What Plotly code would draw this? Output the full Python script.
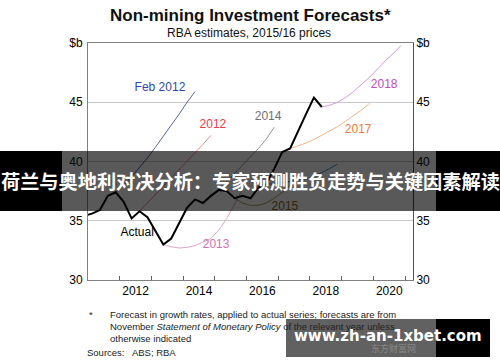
import plotly.graph_objects as go

# ---------------- data ----------------
actual_x = [2010.875, 2011.125, 2011.375, 2011.625, 2011.875, 2012.125, 2012.375, 2012.625,
            2012.875, 2013.125, 2013.375, 2013.625, 2013.875, 2014.125, 2014.375, 2014.625,
            2014.875, 2015.125, 2015.375, 2015.625, 2015.875, 2016.125, 2016.375, 2016.625,
            2016.875, 2017.125, 2017.375, 2017.625, 2017.875, 2018.125, 2018.375]
actual_y = [35.4, 35.6, 35.9, 37.1, 37.4, 36.6, 35.2, 35.8,
            35.3, 34.2, 33.0, 33.5, 34.8, 36.1, 36.8, 36.5,
            37.1, 37.6, 37.5, 36.9, 37.1, 36.9, 37.8, 38.1,
            39.4, 40.8, 41.1, 42.6, 44.0, 45.4, 44.6]

feb2012_x = [2011.875, 2012.125, 2012.375, 2012.625, 2012.875, 2013.125, 2013.375,
             2013.625, 2013.875, 2014.125, 2014.375]
feb2012_y = [37.4, 38.0, 38.7, 39.5, 40.3, 41.2, 42.1, 43.0, 44.0, 45.0, 45.9]

f2012_x = [2012.625, 2012.875, 2013.125, 2013.375, 2013.625, 2013.875, 2014.125,
           2014.375, 2014.625, 2014.875]
f2012_y = [35.8, 36.5, 37.2, 37.9, 38.6, 39.3, 40.0, 40.7, 41.45, 42.2]

f2013_x = [2013.375, 2013.625, 2013.875, 2014.125, 2014.375, 2014.625, 2014.875,
           2015.125, 2015.375, 2015.625, 2015.875, 2016.125]
f2013_y = [33.0, 32.8, 32.7, 32.75, 32.9, 33.2, 33.5, 34.2, 35.2, 36.4, 37.6, 38.9]

f2014_x = [2014.625, 2014.875, 2015.125, 2015.375, 2015.625, 2015.875, 2016.125,
           2016.375, 2016.625, 2016.875]
f2014_y = [36.5, 37.0, 37.6, 38.3, 39.0, 39.7, 40.4, 41.1, 41.9, 42.9]

f2015_x = [2015.375, 2015.625, 2015.875, 2016.125, 2016.375, 2016.625, 2016.875,
           2017.125, 2017.375, 2017.625]
f2015_y = [37.5, 36.9, 36.5, 36.3, 36.3, 36.5, 36.9, 37.4, 38.0, 38.6]

f2016_x = [2016.625, 2016.875, 2017.125, 2017.375, 2017.625, 2017.875, 2018.125,
           2018.375, 2018.625, 2018.875]
f2016_y = [38.1, 38.1, 38.2, 38.3, 38.4, 38.55, 38.75, 39.05, 39.4, 39.8]

f2017_x = [2017.375, 2017.625, 2017.875, 2018.125, 2018.375, 2018.625, 2018.875,
           2019.125, 2019.375, 2019.625, 2019.875]
f2017_y = [41.1, 41.3, 41.55, 41.85, 42.2, 42.55, 42.95, 43.4, 43.85, 44.35, 44.9]

f2018_x = [2018.375, 2018.625, 2018.875, 2019.125, 2019.375, 2019.625, 2019.875,
           2020.125, 2020.375, 2020.625, 2020.875]
f2018_y = [44.6, 44.75, 45.0, 45.4, 45.9, 46.5, 47.1, 47.8, 48.5, 49.1, 49.8]

year_ticks = [2012, 2013, 2014, 2015, 2016, 2017, 2018, 2019, 2020, 2021]
year_label_pos = [2012.5, 2014.5, 2016.5, 2018.5, 2020.5]
year_labels = ["2012", "2014", "2016", "2018", "2020"]
y_ticks = [30, 35, 40, 45, 50]
y_labels = ["30", "35", "40", "45", "$b"]

series_labels = ["Feb 2012", "2012", "2013", "2014", "2015", "2017", "2018", "Actual"]
label_x = [2013.27, 2014.94, 2015.04, 2016.68, 2017.21, 2019.52, 2020.34, 2012.55]
label_y = [46.2, 43.1, 32.95, 43.75, 36.16, 42.66, 46.45, 33.97]
label_colors = ["#3447a8", "#e8404c", "#d670b0", "#6f6f6f", "#8a6a1e", "#f07a3a", "#c04cc0", "#000000"]

# ---------------- figure ----------------
FONT = "Liberation Sans, Arial, sans-serif"
fig = go.Figure()

forecasts = [
    (feb2012_x, feb2012_y, "#5565b5"),
    (f2012_x, f2012_y, "#ee8a8e"),
    (f2013_x, f2013_y, "#e2a4c6"),
    (f2014_x, f2014_y, "#9a9a9a"),
    (f2015_x, f2015_y, "#b09a60"),
    (f2016_x, f2016_y, "#3a8fc0"),
    (f2017_x, f2017_y, "#f5b48a"),
    (f2018_x, f2018_y, "#d79ad9"),
]
for fx, fy, col in forecasts:
    fig.add_trace(go.Scatter(x=fx, y=fy, mode="lines", line=dict(color=col, width=1),
                             hoverinfo="skip", showlegend=False))

fig.add_trace(go.Scatter(x=actual_x, y=actual_y, mode="lines",
                         line=dict(color="#000000", width=2), showlegend=False))

fig.add_trace(go.Scatter(x=label_x, y=label_y, mode="text", text=series_labels,
                         textfont=dict(family=FONT, size=12, color=label_colors),
                         showlegend=False, hoverinfo="skip"))

# invisible trace for the right axis
fig.add_trace(go.Scatter(x=[2011.5], y=[40], yaxis="y2", mode="markers",
                         marker=dict(opacity=0), showlegend=False, hoverinfo="skip"))

fig.update_layout(
    width=500, height=362,
    margin=dict(l=88, r=87, t=43, b=82),
    paper_bgcolor="white", plot_bgcolor="white",
    font=dict(family=FONT, size=12, color="#000"),
    xaxis=dict(range=[2011.0, 2021.25], tickvals=year_label_pos, ticktext=year_labels,
               ticks="", showgrid=False, zeroline=False,
               showline=True, linecolor="#808080", linewidth=1, mirror=True,
               tickfont=dict(size=12, family=FONT),
               minor=dict(tickvals=year_ticks, ticks="inside", ticklen=4,
                          tickcolor="#606060", showgrid=False)),
    yaxis=dict(range=[30, 50], tickvals=y_ticks, ticktext=y_labels, ticks="",
               showgrid=True, gridcolor="#c8c8c8", gridwidth=1, zeroline=False,
               showline=True, linecolor="#808080", linewidth=1,
               tickfont=dict(size=12, family=FONT), ticklabelstandoff=2),
    yaxis2=dict(range=[30, 50], tickvals=y_ticks, ticktext=y_labels, ticks="",
                overlaying="y", side="right", showgrid=False, zeroline=False,
                showline=True, linecolor="#505050", linewidth=1,
                tickfont=dict(size=12, family=FONT), ticklabelstandoff=0),
)

PW, PH = 325.0, 237.0
def px(x):
    return (x - 88) / PW
def py(y):
    return (280 - y) / PH

annos = [
    dict(text="<b>Non-mining Investment Forecasts*</b>", x=px(250), y=py(15),
         font=dict(size=17, family=FONT, color="#111")),
    dict(text="RBA estimates, 2015/16 prices", x=px(249), y=py(33),
         font=dict(size=12, family=FONT, color="#111")),
]
for a in annos:
    a.update(xref="paper", yref="paper", showarrow=False, xanchor="center", yanchor="middle")
    fig.add_annotation(**a)

foot = [
    ("*", 87, 314),
    ("Forecast in growth rates, applied to actual series; forecasts are from", 108, 314),
    ("November <i>Statement of Monetary Policy</i> of the relevant year unless", 108, 326),
    ("otherwise indicated", 108, 338),
    ("Sources:   ABS; RBA", 85, 352),
]
for t, x0, y0 in foot:
    fig.add_annotation(text=t, x=px(x0), y=py(y0), xref="paper", yref="paper",
                       showarrow=False, xanchor="left", yanchor="middle",
                       font=dict(size=9.5, family=FONT, color="#222"))

# ---------------- overlay banner ----------------
shapes = [
    dict(type="rect", x0=px(0), x1=px(62), y0=py(211), y1=py(151),
         fillcolor="black", line=dict(width=0)),
    dict(type="rect", x0=px(436), x1=px(500), y0=py(211), y1=py(151),
         fillcolor="black", line=dict(width=0)),
    dict(type="rect", x0=px(62), x1=px(436), y0=py(211), y1=py(151),
         fillcolor="rgba(0,0,0,0.65)", line=dict(width=0)),
    dict(type="rect", x0=px(286), x1=px(436), y0=py(357), y1=py(319),
         fillcolor="rgba(0,0,0,0.62)", line=dict(width=0)),
    dict(type="rect", x0=px(436), x1=px(490), y0=py(357), y1=py(319),
         fillcolor="black", line=dict(width=0)),
]
for s in shapes:
    s.update(xref="paper", yref="paper", layer="above")
    fig.add_shape(**s)

fig.add_annotation(text="<b>荷兰与奥地利对决分析：专家预测胜负走势与关键因素解读</b>",
                   x=px(250), y=py(181), xref="paper", yref="paper", showarrow=False,
                   xanchor="center", yanchor="middle",
                   font=dict(size=19.2, family="Noto Sans CJK SC", color="white"))
fig.add_annotation(text="东方财富网", x=px(393), y=py(348), xref="paper", yref="paper",
                   showarrow=False, xanchor="center", yanchor="middle",
                   font=dict(size=9, family="Noto Sans CJK SC", color="rgba(200,200,200,0.4)"))
fig.add_annotation(text="<b>www.zh-an-1xbet.com</b>", x=px(388), y=py(336),
                   xref="paper", yref="paper", showarrow=False,
                   xanchor="center", yanchor="middle",
                   font=dict(size=15, family="DejaVu Sans", color="white"))

fig.write_html("out.html", config={"displayModeBar": False},
               post_script="document.body.style.margin='0';")
